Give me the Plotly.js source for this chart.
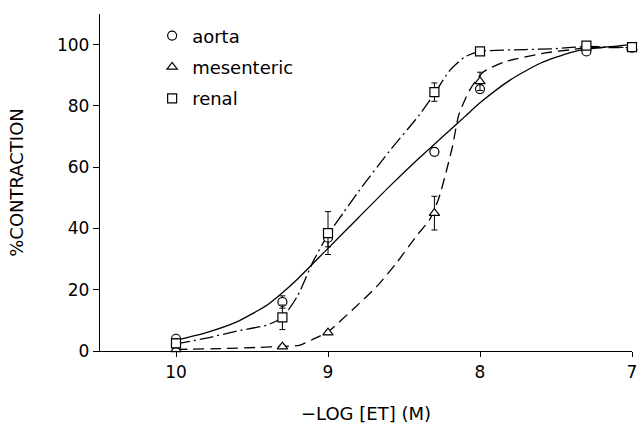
<!DOCTYPE html>
<html>
<head>
<meta charset="utf-8">
<script src="https://cdn.plot.ly/plotly-3.0.1.min.js"></script>
<style>html,body{margin:0;padding:0;background:#fff;}#chart{width:640px;height:433px;}</style>
</head>
<body>
<div id="chart"></div>
<script>
// measured doses (-log [ET])
const doses = [10, 9.3, 9.0, 8.3, 8.0, 7.3, 7.0];
// mean % contraction
const aorta = [4, 16, 37, 65, 85.5, 97.8, 99];
const mesenteric = [0.5, 1.4, 6, 45, 88, 99.5, 99];
const renal = [2.5, 11, 38.5, 84.5, 97.8, 99.7, 99.2];
// error bars (SEM)
const aortaErr = [1, 2, 3, 0.5, 1, 0.5, 0.5];
const mesentericErr = [0.5, 0.5, 0.5, 5.5, 3, 0.5, 0.5];
const renalErr = [1.5, 4, 7, 3, 0.5, 0.5, 0.5];

// fitted curves
const aortaCurveX = [10.0, 9.8, 9.6, 9.4, 9.3, 9.2, 9.0, 8.8, 8.6, 8.4, 8.3, 8.2, 8.1, 8.0, 7.8, 7.6, 7.4, 7.3, 7.0];
const aortaCurveY = [3.5, 6, 9.5, 15, 19, 23.5, 33.5, 43.5, 53.5, 63, 67.5, 72, 76.5, 81, 88.5, 94, 97.5, 98.5, 100];
const mesCurveX = [10.0, 9.7, 9.45, 9.3, 9.19, 9.1, 9.0, 8.84, 8.68, 8.55, 8.42, 8.33, 8.27, 8.22, 8.18, 8.14, 8.07, 7.98, 7.83, 7.57, 7.39, 7.3, 7.0];
const mesCurveY = [0.5, 0.8, 1.2, 1.5, 1.8, 3.8, 6.3, 13.4, 21, 28.7, 37.4, 43, 50, 59, 67, 77, 85, 91, 94.5, 97.3, 98.4, 99, 99];
const renCurveX = [10.0, 9.8, 9.6, 9.4, 9.3, 9.2, 9.1, 9.0, 8.9, 8.8, 8.6, 8.4, 8.3, 8.2, 8.1, 8.0, 7.7, 7.5, 7.3, 7.0];
const renCurveY = [2.3, 4.2, 6.5, 8.5, 11, 18, 29, 38, 45, 52, 65, 77, 84, 91.5, 96, 97.8, 98.4, 98.7, 99.4, 99];

const xTicks = [10, 9, 8, 7];
const yTicks = [0, 20, 40, 60, 80, 100];

const lineW = 1.3;
function curve(x, y, dash) {
  return {x: x, y: y, mode: 'lines', type: 'scatter', showlegend: false, hoverinfo: 'skip',
    line: {color: '#000', width: lineW, dash: dash, shape: 'spline', smoothing: 0.6}, cliponaxis: false};
}
function pts(name, y, err, symbol, size) {
  return {x: doses, y: y, name: name, mode: 'markers', type: 'scatter', cliponaxis: false,
    legendgroup: name,
    error_y: {type: 'data', array: err, visible: true, color: '#000', thickness: 1, width: 3},
    marker: {symbol: symbol, size: size, color: '#fff', line: {color: '#000', width: 1.2}}};
}

const data = [
  curve(aortaCurveX, aortaCurveY, 'solid'),
  curve(mesCurveX, mesCurveY, '11px,6px'),
  curve(renCurveX, renCurveY, '14px,4px,2px,4px'),
  pts('aorta', aorta, aortaErr, 'circle', 9),
  pts('mesenteric', mesenteric, mesentericErr, 'triangle-up', 9),
  pts('renal', renal, renalErr, 'square', 9)
];

const font = {family: '"DejaVu Sans", "Liberation Sans", sans-serif', color: '#000'};
const layout = {
  width: 640, height: 433,
  margin: {l: 100, r: 8, t: 14, b: 82},
  paper_bgcolor: '#fff', plot_bgcolor: '#fff',
  font: font,
  showlegend: true,
  legend: {x: 0.098, y: 0.99, xanchor: 'left', yanchor: 'top', bgcolor: 'rgba(0,0,0,0)',
    font: {family: font.family, size: 18, color: '#000'}, traceorder: 'grouped', tracegroupgap: 5,
    itemwidth: 30},
  xaxis: {range: [10.5, 7], tickvals: xTicks, ticktext: xTicks.map(String),
    showgrid: false, zeroline: false, showline: true, linecolor: '#000', linewidth: 1.2,
    ticks: 'outside', ticklen: 5, tickcolor: '#000', tickfont: {size: 17, family: font.family},
    title: {text: '\u2212LOG [ET] (M)', font: {size: 18, family: font.family}, standoff: 26}},
  yaxis: {range: [0, 110], tickvals: yTicks, ticktext: yTicks.map(String),
    showgrid: false, zeroline: false, showline: true, linecolor: '#000', linewidth: 1.2,
    ticks: 'outside', ticklen: 6, tickcolor: '#000', tickfont: {size: 17, family: font.family},
    title: {text: '%CONTRACTION', font: {size: 18, family: font.family}, standoff: 28}}
};

Plotly.newPlot('chart', data, layout, {displayModeBar: false, staticPlot: true});
</script>
</body>
</html>
